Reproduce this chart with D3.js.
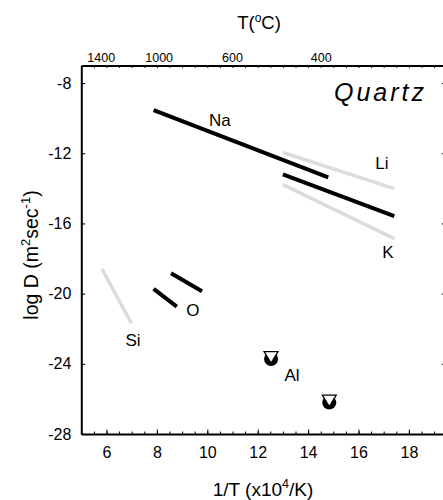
<!DOCTYPE html>
<html lang="en">
<head>
<meta charset="utf-8">
<title>Quartz diffusion</title>
<script src="https://d3js.org/d3.v7.min.js"></script>
<style>
  body { margin: 0; background: #fff; }
  svg { font-family: "Liberation Sans", Arial, sans-serif; }
</style>
</head>
<body>
<div id="chart"></div>
<script>
// x = 1/T (x10^4/K), y = log D (m2/s)
var naLine = [[7.87, -9.54], [14.8, -13.37]];
var kBlackLine = [[13.0, -13.2], [17.42, -15.58]];
var liLine = [[13.0, -11.96], [17.42, -14.02]];
var kGrayLine = [[13.0, -13.79], [17.42, -16.87]];
var oLine1 = [[7.87, -19.73], [8.79, -20.74]];
var oLine2 = [[8.56, -18.84], [9.79, -19.87]];
var siLine = [[5.82, -18.59], [6.99, -21.7]];
var alPoints = [[12.53, -23.73], [14.84, -26.21]];

var xTicks = [6, 8, 10, 12, 14, 16, 18];
var yTicks = [-8, -12, -16, -20, -24, -28];
var topLabels = ["1400", "1000", "600", "400"];
var topLabelPos = [5.79, 8.09, 11.0, 14.52];

var labels = [
  {t: "Na", x: 10.5, y: -10.1},
  {t: "Li", x: 16.93, y: -12.56},
  {t: "K", x: 17.17, y: -17.63},
  {t: "O", x: 9.43, y: -20.93},
  {t: "Si", x: 7.05, y: -22.64},
  {t: "Al", x: 13.36, y: -24.64}
];

var width = 443, height = 500;
var margin = {top: 65.5, left: 81.3};
var plotRight = 446.7, plotBottom = 434;

var x = d3.scaleLinear().domain([5, 19.5]).range([margin.left, plotRight]);
var y = d3.scaleLinear().domain([-28, -7]).range([plotBottom, margin.top]);

var svg = d3.select("#chart").append("svg")
  .attr("width", width)
  .attr("height", height);

var minorX = d3.range(5, 19.51, 0.5);
var plainNum = function(d) { return String(d); };

function styleAxis(g) {
  g.select(".domain").attr("stroke-width", 2);
  g.selectAll(".tick line").attr("stroke-width", 1);
  g.selectAll(".tick text").attr("fill", "#000");
}

// bottom axis
svg.append("g")
  .attr("transform", "translate(0," + plotBottom + ")")
  .call(d3.axisBottom(x).tickValues(minorX).tickSize(-2.5).tickSizeOuter(0).tickFormat(""))
  .call(styleAxis);
svg.append("g")
  .attr("transform", "translate(0," + plotBottom + ")")
  .call(d3.axisBottom(x).tickValues(xTicks).tickSize(-4.5).tickPadding(13).tickSizeOuter(0).tickFormat(plainNum))
  .call(styleAxis)
  .call(function(g) { g.select(".domain").remove(); })
  .selectAll("text").attr("font-size", 16);

// top axis
svg.append("g")
  .attr("transform", "translate(0," + margin.top + ")")
  .call(d3.axisTop(x).tickValues(minorX).tickSize(-2.5).tickSizeOuter(0).tickFormat(""))
  .call(styleAxis);

svg.append("g").selectAll("text")
  .data(topLabels)
  .join("text")
  .attr("x", function(d, i) { return x(topLabelPos[i]); })
  .attr("y", 62)
  .attr("text-anchor", "middle")
  .attr("font-size", 12.5)
  .text(function(d) { return d; });

// left axis
svg.append("g")
  .attr("transform", "translate(" + margin.left + ",0)")
  .call(d3.axisLeft(y).tickValues(yTicks).tickSize(-4).tickPadding(10).tickSizeOuter(0).tickFormat(plainNum))
  .call(styleAxis)
  .selectAll("text").attr("font-size", 16);

// right axis
svg.append("g")
  .attr("transform", "translate(" + plotRight + ",0)")
  .call(d3.axisRight(y).tickValues(yTicks).tickSize(-5).tickSizeOuter(0).tickFormat(""))
  .call(styleAxis);

// titles
var tTitle = svg.append("text")
  .attr("x", 259).attr("y", 29)
  .attr("text-anchor", "middle")
  .attr("font-size", 18.5);
tTitle.append("tspan").text("T(");
tTitle.append("tspan").attr("font-size", 12).attr("dy", -7).text("o");
tTitle.append("tspan").attr("dy", 7).text("C)");

var xTitle = svg.append("text")
  .attr("x", 263).attr("y", 496)
  .attr("text-anchor", "middle")
  .attr("font-size", 19);
xTitle.append("tspan").text("1/T (x10");
xTitle.append("tspan").attr("font-size", 12.5).attr("dy", -8).text("4");
xTitle.append("tspan").attr("dy", 8).text("/K)");

var yTitle = svg.append("text")
  .attr("transform", "translate(38,255) rotate(-90)")
  .attr("text-anchor", "middle")
  .attr("font-size", 19.5);
yTitle.append("tspan").text("log D (m");
yTitle.append("tspan").attr("font-size", 13).attr("dy", -8).text("2");
yTitle.append("tspan").attr("dy", 8).text("sec");
yTitle.append("tspan").attr("font-size", 13).attr("dy", -8).text("-1");
yTitle.append("tspan").attr("dy", 8).text(")");

svg.append("text")
  .attr("x", 334).attr("y", 101)
  .attr("font-size", 25)
  .attr("font-style", "italic")
  .attr("letter-spacing", 3)
  .text("Quartz");

// lines
var line = d3.line().x(function(d) { return x(d[0]); }).y(function(d) { return y(d[1]); });
var grayLines = [liLine, kGrayLine, siLine];
var blackLines = [naLine, kBlackLine, oLine1, oLine2];

svg.append("g").selectAll("path")
  .data(grayLines)
  .join("path")
  .attr("d", line)
  .attr("fill", "none")
  .attr("stroke", "#dcdcdc")
  .attr("stroke-width", 3.5);

svg.append("g").selectAll("path")
  .data(blackLines)
  .join("path")
  .attr("d", line)
  .attr("fill", "none")
  .attr("stroke", "#000")
  .attr("stroke-width", 4);

// Al markers
var al = svg.append("g").selectAll("g")
  .data(alPoints)
  .join("g")
  .attr("transform", function(d) { return "translate(" + x(d[0]) + "," + y(d[1]) + ")"; });
al.append("circle").attr("r", 7).attr("fill", "#000");
al.append("path")
  .attr("d", "M-7,-7.5L7,-7.5L0,4Z")
  .attr("fill", "#fff")
  .attr("stroke", "#000")
  .attr("stroke-width", 1.3);

// element labels
svg.append("g").selectAll("text")
  .data(labels)
  .join("text")
  .attr("x", function(d) { return x(d.x); })
  .attr("y", function(d) { return y(d.y); })
  .attr("dy", "0.36em")
  .attr("text-anchor", "middle")
  .attr("font-size", 17)
  .text(function(d) { return d.t; });
</script>
</body>
</html>
